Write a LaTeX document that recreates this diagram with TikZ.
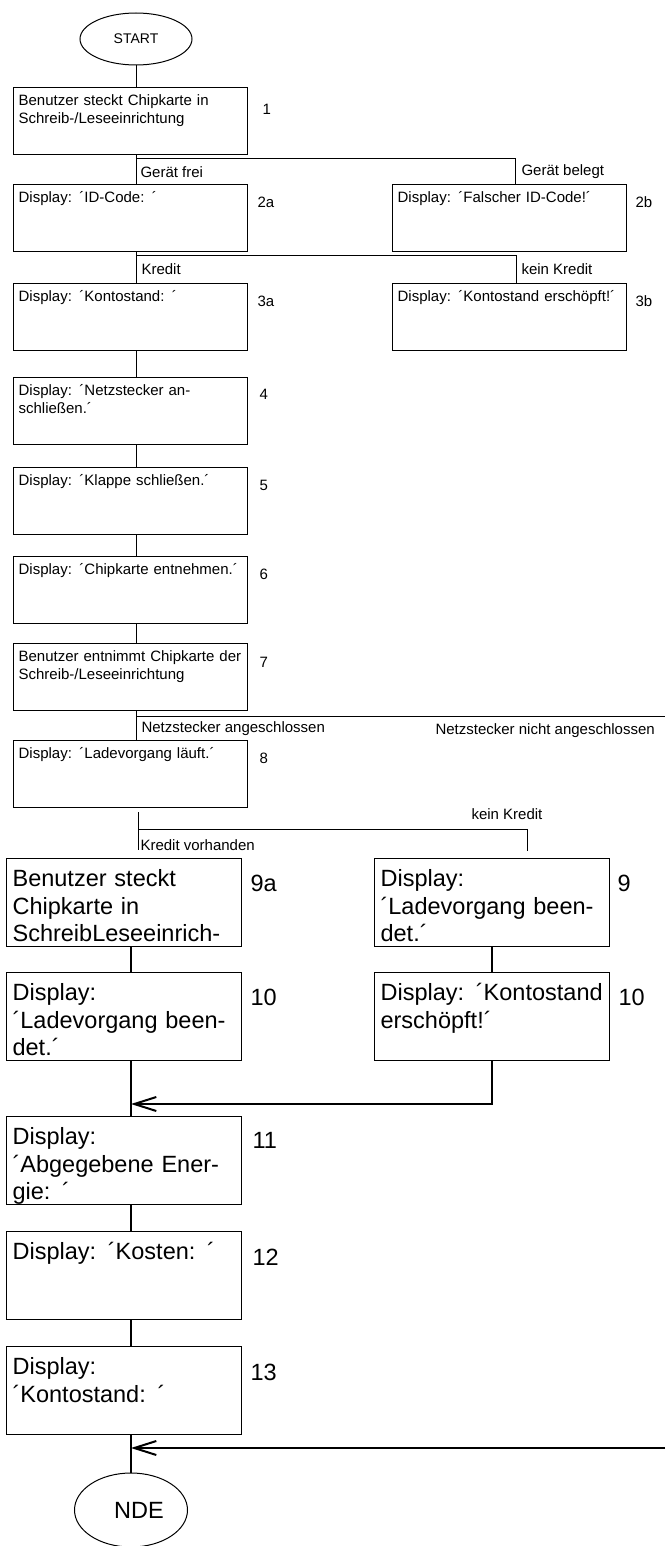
\documentclass[tikz,border=0pt]{standalone}
\usepackage{fontspec}
\setmainfont{Liberation Sans}
\usepackage{tikz}
\newcommand{\smalltxt}{\fontsize{15}{18.3}\selectfont}
\newcommand{\bigtxt}{\fontsize{23.5}{27.5}\selectfont}
\usetikzlibrary{shapes.geometric,arrows.meta}

\begin{document}
\begin{tikzpicture}[x=1pt,y=-1pt,line width=1pt]
    \tikzstyle{terminal}=[ellipse,draw,inner sep=0pt]
	\tikzstyle{smallbox}=[rectangle,draw,line width=1.2pt,anchor=north west,align=left,font=\smalltxt,text width=224pt,inner xsep=5pt,inner ysep=7pt,text height=11pt,text depth=42pt]
	\tikzstyle{bigbox}=[rectangle,draw,line width=1.2pt,anchor=north west,align=left,font=\bigtxt,text width=223pt,inner xsep=6pt,inner ysep=11pt,text height=17pt,text depth=49pt]
	\tikzstyle{num}=[anchor=west,inner sep=0pt,font=\smalltxt]
	\tikzstyle{bignum}=[anchor=west,inner sep=0pt,font=\bigtxt]
	\tikzstyle{annot}=[anchor=west,inner sep=0pt,font=\smalltxt]
    \tikzstyle{thick line}=[line width=2pt]
    \tikzstyle{merge}=[-{Straight Barb[length=22pt,width=14pt]},line width=2pt]

    \useasboundingbox (0,0) rectangle (665,1546);

    \node[terminal,minimum width=112pt,minimum height=52pt,font=\fontsize{14}{16}\selectfont] (start) at (136,39) {START};

    \node[smallbox] (b1) at (13,87) {Benutzer steckt Chipkarte in\\Schreib-/Leseeinrichtung};
    \node[num] (n1) at (262,109) {1};

    \node[smallbox] (b2a) at (13,184) {Display: ´ID-Code: ´};
    \node[num] (n2a) at (257,202) {2a};
    \node[smallbox] (b2b) at (392,184) {Display: ´Falscher ID-Code!´};
    \node[num] (n2b) at (635,202) {2b};

    \node[smallbox] (b3a) at (13,283) {Display: ´Kontostand: ´};
    \node[num] (n3a) at (257,301) {3a};
    \node[smallbox] (b3b) at (392,283) {Display: ´Kontostand erschöpft!´};
    \node[num] (n3b) at (635,301) {3b};

    \node[smallbox] (b4) at (13,377) {Display: ´Netzstecker an-\\schließen.´};
    \node[num] (n4) at (259,394) {4};
    \node[smallbox] (b5) at (13,467) {Display: ´Klappe schließen.´};
    \node[num] (n5) at (259,485) {5};
    \node[smallbox] (b6) at (13,556) {Display: ´Chipkarte entnehmen.´};
    \node[num] (n6) at (259,574) {6};
    \node[smallbox] (b7) at (13,643) {Benutzer entnimmt Chipkarte der\\Schreib-/Leseeinrichtung};
    \node[num] (n7) at (259,662) {7};
    \node[smallbox] (b8) at (13,740) {Display: ´Ladevorgang läuft.´};
    \node[num] (n8) at (259,758) {8};

    \node[bigbox] (b9a) at (6,858) {Benutzer steckt\\Chipkarte in\\SchreibLeseeinrich-};
    \node[bignum] (n9a) at (250,883) {9a};
    \node[bigbox] (b9) at (374,858) {Display:\\´Ladevorgang been-\\det.´};
    \node[bignum] (n9) at (617,883) {9};

    \node[bigbox] (b10a) at (6,972) {Display:\\´Ladevorgang been-\\det.´};
    \node[bignum] (n10a) at (250,997) {10};
    \node[bigbox] (b10b) at (374,972) {Display: ´Kontostand\\erschöpft!´};
    \node[bignum] (n10b) at (618,997) {10};

    \node[bigbox] (b11) at (6,1116) {Display:\\´Abgegebene Ener-\\gie: ´};
    \node[bignum] (n11) at (252,1140) {11};
    \node[bigbox] (b12) at (6,1231) {Display: ´Kosten: ´};
    \node[bignum] (n12) at (252,1257) {12};
    \node[bigbox] (b13) at (6,1346) {Display:\\´Kontostand: ´};
    \node[bignum] (n13) at (250,1372) {13};

    \node[terminal,minimum width=113pt,minimum height=74pt,font=\bigtxt] (nde) at (131,1510) {\hspace*{16pt}NDE};

    % branch corners and loose ends
    \coordinate (k1) at (515,159);
    \coordinate (k2) at (516,256);
    \coordinate (k3) at (665,716);
    \coordinate (k5) at (138,829);
    \coordinate (k4) at (527,829);
    \coordinate (m1) at (131,1104);
    \coordinate (m2) at (665,1448);

    \draw (start) -- (b1.north -| start);
    \draw (b1.south -| start) -- (b2a.north -| start);
    \draw (start |- k1) -- (k1) -- (b2b.north -| k1);
    \node[annot] (l1) at (140,172) {Gerät frei};
    \node[annot] (l2) at (521,172) {Gerät belegt};

    \draw (b2a.south -| start) -- (b3a.north -| start);
    \draw (start |- k2) -- (k2) -- (b3b.north -| k2);
    \node[annot] (l3) at (141,269) {Kredit};
    \node[annot] (l4) at (521,269) {kein Kredit};

    \draw (b3a.south -| start) -- (b4.north -| start);
    \draw (b4.south -| start) -- (b5.north -| start);
    \draw (b5.south -| start) -- (b6.north -| start);
    \draw (b6.south -| start) -- (b7.north -| start);
    \draw (b7.south -| start) -- (b8.north -| start);
    \draw (start |- k3) -- (k3);
    \node[annot] (l5) at (141,729) {Netzstecker angeschlossen};
    \node[annot] (l6) at (435,731) {Netzstecker nicht angeschlossen};

    \draw[shorten <=4pt,shorten >=8pt] (b8.south -| k5) -- (b9a.north -| k5);
    \draw[shorten >=7pt] (k5) -- (k4) -- (b9.north -| k4);
    \node[annot] (l7) at (140,845) {Kredit vorhanden};
    \node[annot] (l8) at (471,814) {kein Kredit};

    \draw[thick line] (b9a.south -| m1) -- (b10a.north -| m1);
    \draw[thick line] (b9) -- (b10b);
    \draw[thick line] (b10a.south -| m1) -- (b11.north -| m1);
    \draw[merge] (b10b.south) |- (m1);
    \draw[thick line] (b11.south -| m1) -- (b12.north -| m1);
    \draw[thick line] (b12.south -| m1) -- (b13.north -| m1);
    \draw[thick line] (b13.south -| nde) -- (nde);
    \draw[merge] (m2) -- (nde |- m2);
\end{tikzpicture}
\end{document}
